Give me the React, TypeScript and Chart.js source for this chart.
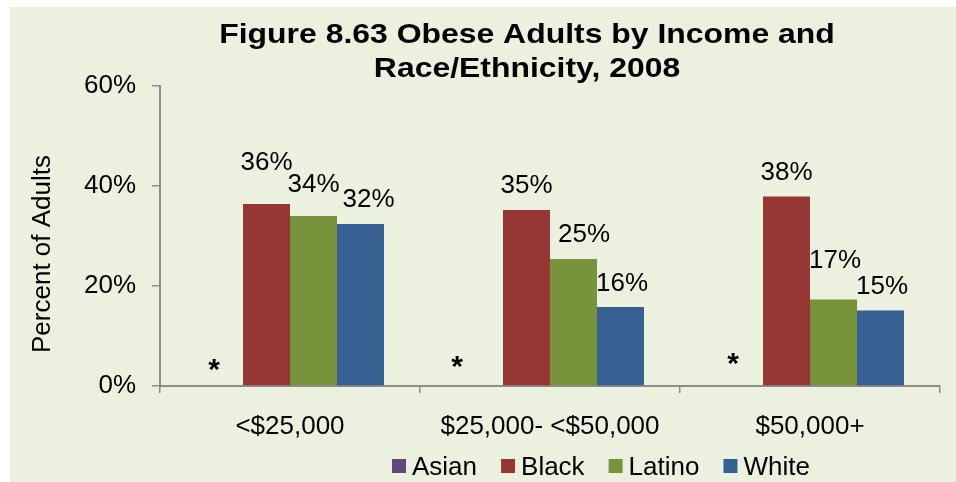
import React, { useEffect, useRef } from 'react';
import { Chart, registerables } from 'chart.js';

Chart.register(...registerables);

const TITLE_LINES = ['Figure 8.63 Obese Adults by Income and', 'Race/Ethnicity, 2008'];
const Y_TITLE = 'Percent of Adults';
const categories = ['<$25,000', '$25,000- <$50,000', '$50,000+'];
const seriesNames = ['Asian', 'Black', 'Latino', 'White'];
const asian = [0, 0, 0];
const asianLabels = ['*', '*', '*'];
const black = [36.4, 35.2, 37.9];
const latino = [34.0, 25.4, 17.3];
const white = [32.4, 15.8, 15.1];
const yMin = 0;
const yMax = 60;
const yStep = 20;
const colors = ['#604A7B', '#953735', '#77933C', '#376092'];

const FONT = '"Liberation Sans", Arial, sans-serif';
const AXIS_COLOR = '#8C8C8C';
// label offsets [dx, dy] relative to bar top (style only)
const LABEL_OFFSETS = [
  [[-5.5, -21], [-22.5, -24], [-6.5, -27.5]],
  [[0, -34], [0, -17], [0, -17]],
  [[0, -24], [10.5, -17], [1.5, -32]],
  [[8, -17], [1.5, -16], [1.5, -17]],
];

const decorPlugin = {
  id: 'decor',
  beforeDraw(chart: any) {
    const ctx = chart.ctx;
    ctx.save();
    ctx.fillStyle = '#ffffff';
    ctx.fillRect(0, 0, chart.width, chart.height);
    ctx.fillStyle = '#EBF1DE';
    ctx.fillRect(10, 7, chart.width - 10, chart.height - 7);
    ctx.restore();
  },
  afterDraw(chart: any) {
    const ctx = chart.ctx;
    const area = chart.chartArea;
    ctx.save();
    ctx.fillStyle = '#000';
    // title
    ctx.font = `bold 28px ${FONT}`;
    ctx.textAlign = 'center';
    ctx.textBaseline = 'alphabetic';
    TITLE_LINES.forEach((t, i) => {
      ctx.save();
      ctx.translate(527, 43 + i * 34);
      ctx.scale(1.14, 1);
      ctx.fillText(t, 0, 0);
      ctx.restore();
    });
    // y title
    ctx.font = `26px ${FONT}`;
    ctx.save();
    ctx.translate(50, (area.top + area.bottom) / 2 + 18);
    ctx.rotate(-Math.PI / 2);
    ctx.textAlign = 'center';
    ctx.fillText(Y_TITLE, 0, 0);
    ctx.restore();
    // data labels
    chart.data.datasets.forEach((ds: any, di: number) => {
      const meta = chart.getDatasetMeta(di);
      meta.data.forEach((el: any, j: number) => {
        const [dx, dy] = LABEL_OFFSETS[di][j];
        if (di === 0) {
          ctx.font = `bold 30px ${FONT}`;
          ctx.textAlign = 'center';
          const m = ctx.measureText(asianLabels[j]);
          const cy = el.y + dy;
          const base = cy - (m.actualBoundingBoxDescent - m.actualBoundingBoxAscent) / 2;
          ctx.fillText(asianLabels[j], el.x + dx, base);
        } else {
          ctx.font = `26px ${FONT}`;
          ctx.textAlign = 'center';
          ctx.fillText(Math.round(ds.data[j]) + '%', el.x + dx, el.y + dy);
        }
      });
    });
    // legend
    ctx.font = `26px ${FONT}`;
    ctx.textAlign = 'left';
    let x = area.left + 232;
    seriesNames.forEach((name, i) => {
      ctx.fillStyle = colors[i];
      ctx.fillRect(x, 459, 14, 14);
      ctx.fillStyle = '#000';
      ctx.fillText(name, x + 20, 475);
      x += 20 + ctx.measureText(name).width + 24;
    });
    ctx.restore();
  },
};

export default function App() {
  const ref = useRef<HTMLCanvasElement | null>(null);
  useEffect(() => {
    document.body.style.margin = '0';
    const canvas = ref.current;
    if (!canvas) return;
    const data = [asian, black, latino, white];
    const chart = new Chart(canvas, {
      type: 'bar',
      data: {
        labels: categories,
        datasets: seriesNames.map((n, i) => ({
          label: n,
          data: data[i],
          backgroundColor: colors[i],
          borderWidth: 0,
          categoryPercentage: 0.723,
          barPercentage: 1,
        })),
      },
      options: {
        animation: false,
        responsive: false,
        devicePixelRatio: 1,
        layout: { padding: { left: 60, right: 16, top: 86, bottom: 36 } },
        plugins: {
          legend: { display: false },
          title: { display: false },
          tooltip: { enabled: false },
        },
        scales: {
          x: {
            offset: true,
            grid: {
              display: true,
              offset: true,
              drawOnChartArea: false,
              drawTicks: true,
              tickLength: 7,
              color: AXIS_COLOR,
              lineWidth: 1.5,
            },
            border: { display: true, color: AXIS_COLOR, width: 2 },
            ticks: {
              color: '#000',
              font: { family: FONT, size: 26 },
              padding: 18,
              maxRotation: 0,
              autoSkip: false,
            },
            afterFit: (s: any) => { s.height = 60; },
          },
          y: {
            min: yMin,
            max: yMax,
            grid: {
              display: true,
              drawOnChartArea: false,
              drawTicks: true,
              tickLength: 8,
              color: AXIS_COLOR,
              lineWidth: 1.5,
            },
            border: { display: true, color: AXIS_COLOR, width: 2 },
            ticks: {
              stepSize: yStep,
              color: '#000',
              font: { family: FONT, size: 26 },
              padding: 16,
              callback: (v: any) => v + '%',
            },
            afterFit: (s: any) => { s.width = 100; },
          },
        },
      },
      plugins: [decorPlugin],
    });
    return () => chart.destroy();
  }, []);
  return (
    <div style={{ width: 956, height: 482 }}>
      <canvas ref={ref} width={956} height={482} style={{ display: 'block', width: 956, height: 482 }} />
    </div>
  );
}
